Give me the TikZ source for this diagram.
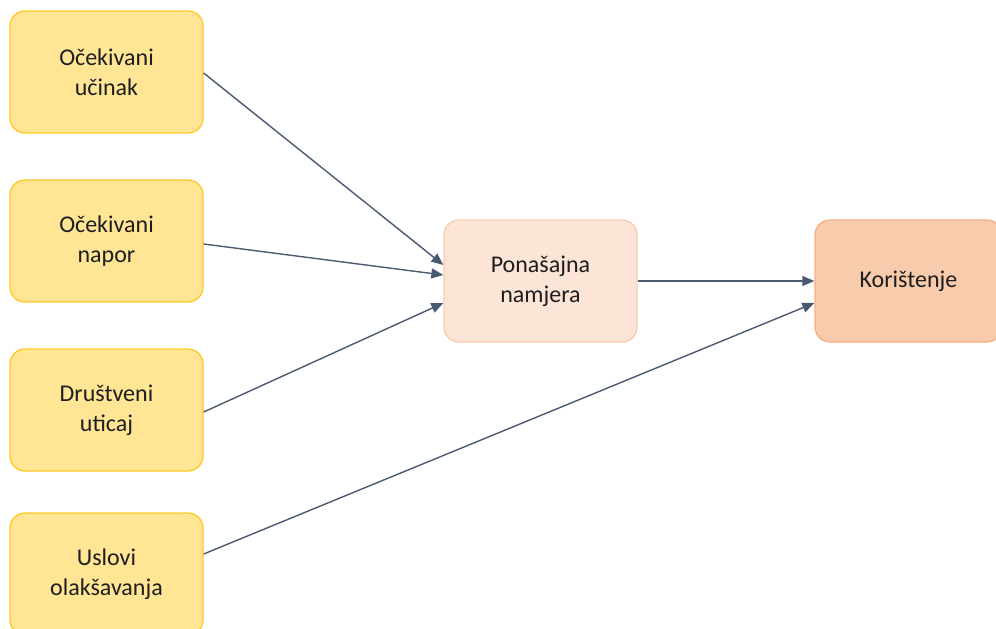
\documentclass[tikz,border=0pt]{standalone}
\usepackage{fontspec}
\setmainfont{Carlito}
\usetikzlibrary{arrows.meta}
\definecolor{ylwfill}{HTML}{FFE594}
\definecolor{ylwdraw}{HTML}{FFC828}
\definecolor{peachfill}{HTML}{FCE4D6}
\definecolor{peachdraw}{HTML}{F8CBAD}
\definecolor{salmonfill}{HTML}{F8CBAD}
\definecolor{salmondraw}{HTML}{F4B183}
\definecolor{linkcol}{HTML}{4A5A70}
\definecolor{txtcol}{HTML}{1E1E1E}
\tikzset{
  box/.style={rounded corners=15pt, line width=1.3pt, minimum width=193pt,
    minimum height=122pt, inner sep=0pt, align=center, text=txtcol,
    font=\fontsize{24}{30}\selectfont},
  factor/.style={box, fill=ylwfill, draw=ylwdraw},
  intent/.style={box, fill=peachfill, draw=peachdraw},
  usage/.style={box, fill=salmonfill, draw=salmondraw, minimum width=187pt},
  link/.style={draw=linkcol, line width=1.4pt,
    -{Triangle[length=12pt,width=10pt]}}
}
\begin{document}
\begin{tikzpicture}[x=1pt,y=-1pt]
  \useasboundingbox (0,0) rectangle (996,629);
  \begin{scope}
  \clip (0,0) rectangle (996,629);
  % input factors
  \node[factor] (perf) at (106.5,72) {Očekivani\\učinak};
  \node[factor] (effort) at (106.5,241) {Očekivani\\napor};
  \node[factor] (social) at (106.5,410) {Društveni\\uticaj};
  \node[factor] (cond) at (106.5,574) {Uslovi\\olakšavanja};
  % intention and use
  \node[intent] (intent) at (540.5,281) {Ponašajna\\namjera};
  \node[usage] (use) at (908.5,281) {Korištenje};
  % connectors
  \draw[link] ([yshift=-1pt]perf.east) -- ([yshift=16pt]intent.west);
  \draw[link] ([yshift=-3pt]effort.east) -- ([yshift=6pt]intent.west);
  \draw[link] ([yshift=-2pt]social.east) -- ([yshift=-22pt]intent.west);
  \draw[link] (intent.east) -- (use.west);
  \draw[link] ([yshift=20pt]cond.east) -- ([yshift=-22pt]use.west);
  \end{scope}
\end{tikzpicture}
\end{document}
